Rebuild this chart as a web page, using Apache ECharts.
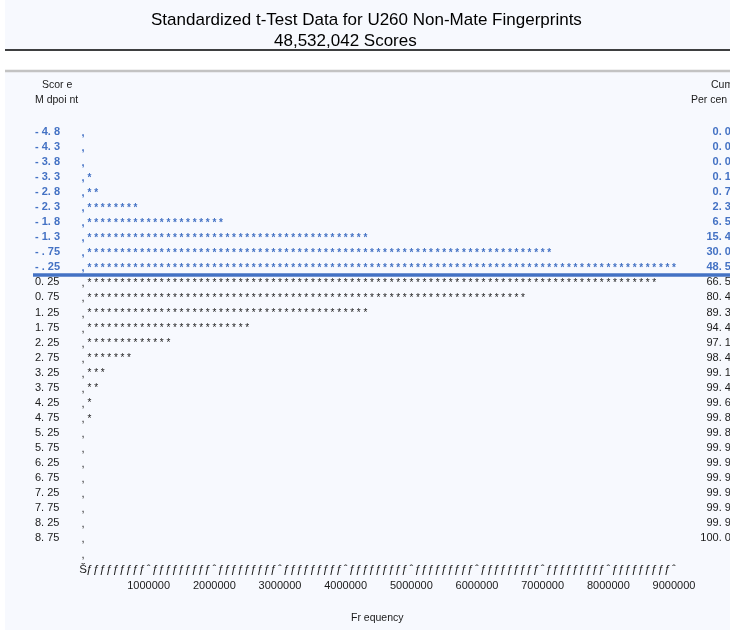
<!DOCTYPE html>
<html>
<head>
<meta charset="utf-8">
<script src="https://cdn.jsdelivr.net/npm/echarts@6/dist/echarts.min.js"></script>
<style>
  html, body { margin: 0; padding: 0; background: #ffffff; }
  #chart { width: 730px; height: 630px; }
</style>
</head>
<body>
<div id="chart"></div>
<script>
// Score midpoints, printed with the spacing of the original listing
const midpoints = [
  '- 4. 8', '- 4. 3', '- 3. 8', '- 3. 3', '- 2. 8', '- 2. 3', '- 1. 8', '- 1. 3', '- . 75', '- . 25',
  '0. 25', '0. 75', '1. 25', '1. 75', '2. 25', '2. 75', '3. 25', '3. 75', '4. 25', '4. 75',
  '5. 25', '5. 75', '6. 25', '6. 75', '7. 25', '7. 75', '8. 25', '8. 75'
];

// Number of scores falling in each midpoint bin
const frequencies = [
  1000, 6000, 25000, 62000, 248000, 800000, 2055000, 4300000, 7080000, 8985000,
  8730000, 6740000, 4330000, 2480000, 1305000, 652000, 320000, 155000, 85000, 100000,
  12000, 16000, 11000, 9000, 7000, 6000, 5000, 7042
];

// Frequency axis ticks
const freqTicks = [0, 1000000, 2000000, 3000000, 4000000, 5000000, 6000000, 7000000, 8000000, 9000000];

const starUnit = 100000;      // one '*' per 100,000 scores
const negativeRows = 10;      // bins below zero are highlighted
const blue = '#4472C4';
const ink = '#1a1a1a';
const font = '"Liberation Sans", Arial, sans-serif';

const total = frequencies.reduce((a, b) => a + b, 0);

// Cumulative percent column
let running = 0;
const cumPercent = frequencies.map(f => {
  running += f;
  return (running / total * 100).toFixed(2).replace('.', '. ');
});

const rowCount = midpoints.length;
const leftLabels = midpoints.concat(['', '']);
const rightLabels = cumPercent.concat(['', '']);

const chart = echarts.init(document.getElementById('chart'), null, { renderer: 'canvas' });

function rowColor(i) { return i < negativeRows ? blue : ink; }

const option = {
  backgroundColor: '#ffffff',
  animation: false,
  textStyle: { fontFamily: font },
  title: [
    { text: 'Standardized t-Test Data for U260 Non-Mate Fingerprints', left: 146, top: 7,
      textStyle: { fontSize: 17, fontWeight: 'normal', color: '#000', fontFamily: font } },
    { text: total.toLocaleString('en-US') + ' Scores', left: 269, top: 28,
      textStyle: { fontSize: 17, fontWeight: 'normal', color: '#000', fontFamily: font } }
  ],
  graphic: [
    { type: 'rect', z: -10, shape: { x: 5, y: 0, width: 725, height: 630 }, style: { fill: '#f7f9fe' } },
    { type: 'rect', z: -9, shape: { x: 5, y: 51, width: 725, height: 19 }, style: { fill: '#ffffff' } },
    { type: 'line', shape: { x1: 5, y1: 50, x2: 730, y2: 50 }, style: { stroke: '#000', lineWidth: 1.5 } },
    { type: 'line', shape: { x1: 5, y1: 71, x2: 730, y2: 71 }, style: { stroke: '#c3c3c3', lineWidth: 2.5 } },
    { type: 'text', left: 42, top: 80, style: { text: 'Scor e', font: '10.5px ' + font, fill: ink } },
    { type: 'text', left: 35, top: 95, style: { text: 'M dpoi nt', font: '10.5px ' + font, fill: ink } },
    { type: 'text', left: 711, top: 80, style: { text: 'Cum', font: '10.5px ' + font, fill: ink } },
    { type: 'text', left: 691, top: 95, style: { text: 'Per cen t', font: '10.5px ' + font, fill: ink } },
    { type: 'text', left: 351, top: 613, style: { text: 'Fr equency', font: '10.5px ' + font, fill: ink } }
  ],
  grid: { left: 83, right: 56, top: 124.5, height: 451.2, outerBoundsMode: 'none', containLabel: false },
  xAxis: {
    type: 'value', min: 0, max: 9000000, interval: 1000000,
    axisLine: { show: false }, axisTick: { show: false }, splitLine: { show: false },
    axisLabel: {
      fontSize: 11, color: ink, margin: 5, fontFamily: font,
      formatter: v => (v === 0 || freqTicks.indexOf(v) < 0) ? '' : String(v)
    }
  },
  yAxis: [
    {
      type: 'category', inverse: true, data: leftLabels,
      axisLine: { show: false }, axisTick: { show: false }, splitLine: { show: false },
      axisLabel: {
        interval: 0, align: 'left', margin: 48, fontSize: 11, fontFamily: font,
        formatter: (v, i) => i < negativeRows ? '{n|' + v + '}' : '{p|' + v + '}',
        rich: {
          n: { color: blue, fontWeight: 'bold', fontSize: 11, fontFamily: font },
          p: { color: ink, fontSize: 11, fontFamily: font }
        }
      }
    },
    {
      type: 'category', inverse: true, position: 'right', data: rightLabels,
      axisLine: { show: false }, axisTick: { show: false }, splitLine: { show: false },
      axisLabel: {
        interval: 0, align: 'right', margin: 63, fontSize: 11, fontFamily: font,
        formatter: (v, i) => i < negativeRows ? '{n|' + v + '}' : '{p|' + v + '}',
        rich: {
          n: { color: blue, fontWeight: 'bold', fontSize: 11, fontFamily: font },
          p: { color: ink, fontSize: 11, fontFamily: font }
        }
      }
    }
  ],
  series: [
    {
      // one row of asterisks per midpoint bin
      type: 'custom',
      name: 'Frequency',
      yAxisIndex: 0,
      clip: false,
      data: frequencies.map((f, i) => [i, f]),
      encode: { x: 1, y: 0 },
      renderItem: function (params, api) {
        const row = api.value(0);
        const n = Math.round(api.value(1) / starUnit);
        const color = rowColor(row);
        const weight = row < negativeRows ? 'bold' : 'normal';
        const base = api.coord([0, row]);
        const children = [{
          type: 'text', x: base[0], y: base[1] + 1,
          style: { text: ',', fill: color, font: weight + ' 11px ' + font, textAlign: 'center', textVerticalAlign: 'middle' }
        }];
        for (let k = 1; k <= n; k++) {
          const p = api.coord([k * starUnit, row]);
          children.push({
            type: 'text', x: p[0], y: p[1] + 1,
            style: { text: '*', fill: color, font: weight + ' 10px ' + font, textAlign: 'center', textVerticalAlign: 'middle' }
          });
        }
        return { type: 'group', children: children };
      }
    },
    {
      // frequency rule under the bars, and the zero divider line
      type: 'custom',
      name: 'Rule',
      yAxisIndex: 0,
      clip: false,
      data: [[rowCount, 0]],
      encode: { x: 1, y: 0 },
      renderItem: function (params, api) {
        const band = api.size([0, 1])[1];
        const children = [];
        const c = api.coord([0, rowCount]);
        children.push({
          type: 'text', x: c[0], y: c[1] + 2,
          style: { text: ',', fill: ink, font: '11px ' + font, textAlign: 'center', textVerticalAlign: 'middle' }
        });
        const last = Math.round(9000000 / starUnit);
        for (let k = 0; k <= last; k++) {
          const p = api.coord([k * starUnit, rowCount + 1]);
          const ch = k === 0 ? 'Š' : (k % 10 === 0 ? 'ˆ' : 'ƒ');
          children.push({
            type: 'text', x: p[0], y: p[1] + 2,
            style: { text: ch, fill: ink, font: '11.5px ' + font, textAlign: 'center', textVerticalAlign: 'middle' }
          });
        }
        const d = api.coord([0, negativeRows - 1]);
        const yLine = d[1] + band / 2;
        children.push({
          type: 'line', shape: { x1: 33, y1: yLine, x2: 730, y2: yLine },
          style: { stroke: blue, lineWidth: 3.5 }
        });
        return { type: 'group', children: children };
      }
    }
  ]
};

chart.setOption(option);
</script>
</body>
</html>
